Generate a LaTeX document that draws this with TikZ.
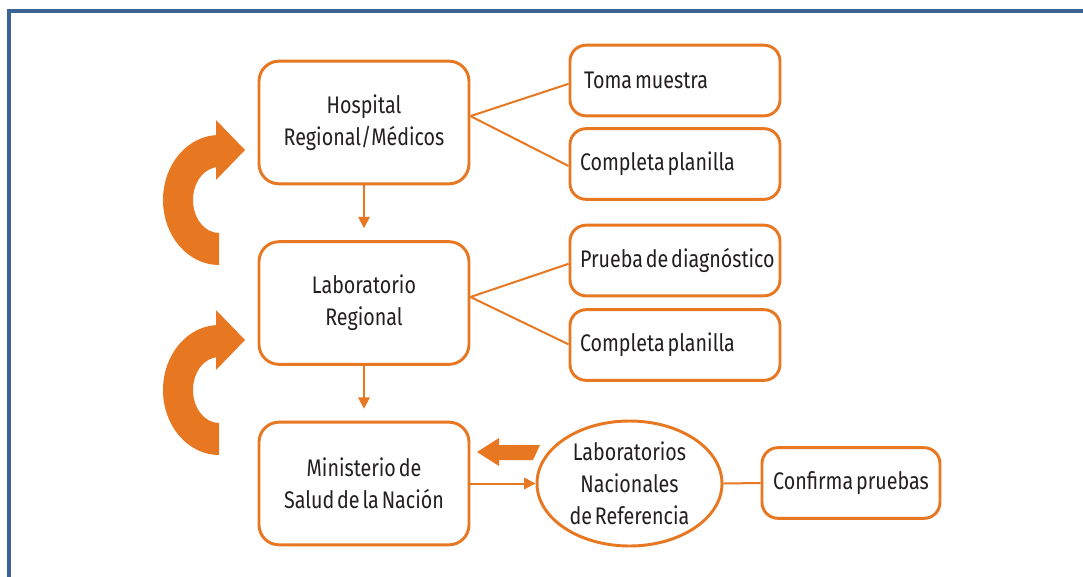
\documentclass[tikz,border=0pt]{standalone}
\usepackage{fontspec}
\setmainfont{Fira Sans}[FakeStretch=0.82,WordSpace=0.55]
\usetikzlibrary{shapes.geometric,arrows.meta}
\definecolor{org}{RGB}{232,119,34}
\definecolor{frameblue}{RGB}{59,99,150}
\definecolor{txt}{RGB}{35,31,32}
\newcommand{\lefttext}[1]{\makebox[142.5pt][l]{#1}}
\tikzset{
  bigbox/.style={draw=org, line width=2.2pt, rounded corners=15pt, minimum width=157.5pt, minimum height=92pt, align=center, text=txt, fill=white},
  smallbox/.style={draw=org, line width=2.2pt, rounded corners=12pt, inner xsep=7.5pt, minimum width=157.5pt, minimum height=53pt, text=txt, fill=white},
  confbox/.style={draw=org, line width=2.2pt, rounded corners=12pt, minimum width=133.5pt, minimum height=53pt, text=txt, fill=white},
  ellbox/.style={draw=org, line width=2.2pt, ellipse, inner sep=0pt, minimum width=138.75pt, minimum height=93.75pt, fill=white},
  plaintext/.style={align=center, text=txt, inner sep=0pt},
  conn/.style={draw=org, line width=1.5pt},
  arr/.style={draw=org, line width=1.5pt, -{Triangle[length=8.5pt,width=8.5pt]}}
}
\begin{document}
\begin{tikzpicture}[x=0.75pt,y=-0.75pt, font=\fontsize{18}{24}\selectfont]
\useasboundingbox (0,0) rectangle (1083,576);
\fill[white] (0,0) rectangle (1083,576);
\draw[frameblue, line width=2.4pt] (9,580) -- (9,11) -- (1090,11);

% left curved arrows
\fill[org] (219,265) arc[start angle=90,end angle=270,x radius=56,y radius=65] -- (216,135) -- (216,120) -- (245,150) -- (216,180) -- (216,167) -- (219,167) arc[start angle=270,end angle=90,x radius=26,y radius=33] -- cycle;
\fill[org] (219,455) arc[start angle=90,end angle=270,x radius=56,y radius=65] -- (216,325) -- (216,310) -- (245,340) -- (216,370) -- (216,357) -- (219,357) arc[start angle=270,end angle=90,x radius=26,y radius=33] -- cycle;

% main boxes
\node[bigbox] (hosp) at (364,122.5) {Hospital\\Regional/Médicos};
\node[bigbox] (labr) at (364,303) {Laboratorio\\Regional};
\node[bigbox] (min) at (364,483.5) {Ministerio de\\Salud de la Nación};

% task boxes
\node[smallbox] (toma) at (675,80.5) {\lefttext{\hspace{3pt}Toma muestra}};
\node[smallbox] (comp1) at (675,164) {\lefttext{Completa planilla}};
\node[smallbox] (prueba) at (675,260.5) {\lefttext{Prueba de diagnóstico}};
\node[smallbox] (comp2) at (675,345) {\lefttext{Completa planilla}};

% national labs
\node[ellbox] (lnr) at (629.5,483.5) {};
\node[plaintext] (lnrtxt) at (lnr.center) {Laboratorios\\Nacionales\\de Referencia};
\node[confbox] (conf) at (851,483) {Confirma pruebas};

% connectors
\draw[conn] ([yshift=4.8pt]hosp.east) -- ([yshift=-2.5pt]toma.west);
\draw[conn] ([yshift=4.8pt]hosp.east) -- ([yshift=-1.5pt]comp1.west);
\draw[conn] ([yshift=4.5pt]labr.east) -- ([yshift=-2.5pt]prueba.west);
\draw[conn] ([yshift=4.5pt]labr.east) -- ([yshift=0.5pt]comp2.west);
\draw[arr, shorten >=9pt] (hosp.south) -- (labr.north);
\draw[arr, shorten >=9pt] (labr.south) -- (min.north);
\draw[arr] (min.east) -- (lnr.west);
\draw[conn] (lnr.east) -- (conf.west);

% block arrow from national labs to ministry
\fill[org] (477,452) -- (499,438) -- (499,445) -- (540,445) -- (533,460) -- (499,460) -- (499,466) -- cycle;
\end{tikzpicture}
\end{document}
